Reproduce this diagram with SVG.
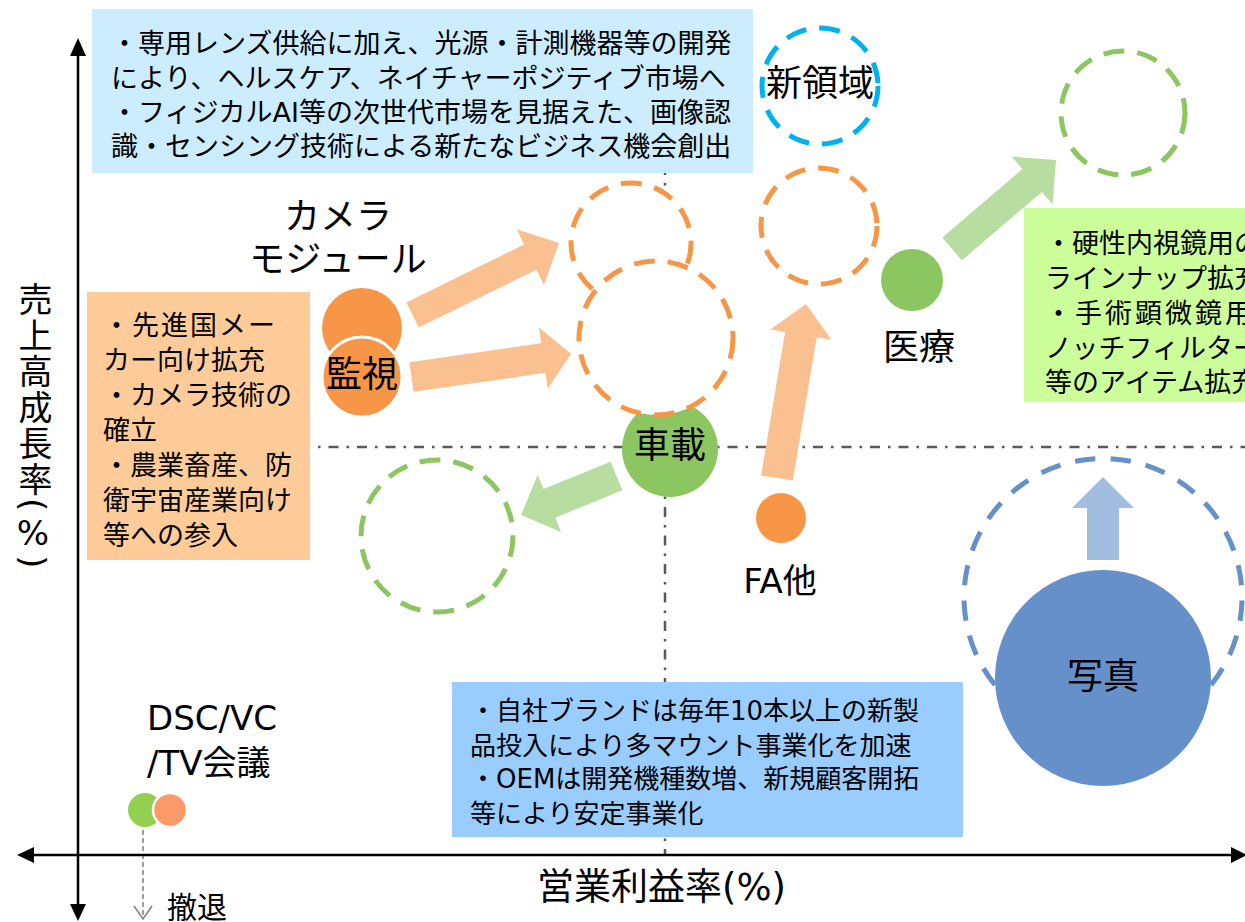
<svg xmlns="http://www.w3.org/2000/svg" width="1245" height="922" viewBox="0 0 1245 922">
<style>
  text { font-family: "DejaVu Sans", "Noto Sans CJK JP", sans-serif; fill: #000; }
  .box { font-size: 27px; }
  .box26 { font-size: 26px; }
  .lbl { font-size: 36px; text-anchor: middle; }
  .dd { fill: #fff; stroke-width: 5; stroke-dasharray: 21 13; }
  .or { stroke: #F79646; }
  .gr { stroke: #8CC660; }
  .dashdot { stroke: #595959; stroke-width: 2.5; stroke-dasharray: 10 8 2.5 8; fill: none; }
  .axis { stroke: #000; stroke-width: 2.5; fill: none; }
  .arrO { fill: #FAC090; }
  .arrG { fill: #B8DDA0; }
</style>
<rect x="0" y="0" width="1245" height="922" fill="#fff"/>

<g id="guides">
  <line class="dashdot" x1="300" y1="447" x2="1245" y2="447"/>
  <line class="dashdot" x1="665" y1="165" x2="665" y2="855"/>
</g>

<g id="box-top">
  <rect x="92" y="9" width="661" height="164" fill="#CCECFF"/>
  <text class="box" x="111" y="53">・専用レンズ供給に加え、光源・計測機器等の開発</text>
  <text class="box" x="111" y="88">により、ヘルスケア、ネイチャーポジティブ市場へ</text>
  <text class="box" x="111" y="122">・フィジカルAI等の次世代市場を見据えた、画像認</text>
  <text class="box" x="111" y="156">識・センシング技術による新たなビジネス機会創出</text>
</g>

<g id="box-left">
  <rect x="87" y="292" width="223" height="268" fill="#FFCC99"/>
  <text class="box" x="103" y="335" letter-spacing="2">・先進国メー</text>
  <text class="box" x="103" y="370">カー向け拡充</text>
  <text class="box" x="103" y="405">・カメラ技術の</text>
  <text class="box" x="103" y="440">確立</text>
  <text class="box" x="103" y="475">・農業畜産、防</text>
  <text class="box" x="103" y="510">衛宇宙産業向け</text>
  <text class="box" x="103" y="545">等への参入</text>
</g>

<g id="box-right">
  <rect x="1024" y="208" width="230" height="194" fill="#CCFF99"/>
  <text class="box" x="1045" y="253">・硬性内視鏡用の</text>
  <text class="box" x="1045" y="288">ラインナップ拡充</text>
  <text class="box" x="1045" y="323" letter-spacing="3">・手術顕微鏡用</text>
  <text class="box" x="1045" y="358">ノッチフィルター</text>
  <text class="box" x="1045" y="392">等のアイテム拡充</text>
</g>

<g id="box-bottom">
  <rect x="452" y="682" width="511" height="155" fill="#99CCFF"/>
  <text class="box26" x="470" y="720">・自社ブランドは毎年10本以上の新製</text>
  <text class="box26" x="470" y="755">品投入により多マウント事業化を加速</text>
  <text class="box26" x="470" y="788">・OEMは開発機種数増、新規顧客開拓</text>
  <text class="box26" x="470" y="823">等により安定事業化</text>
</g>

<g id="connectors">
  <polygon class="arrO" points="406.3,302.4 524.1,244.5 516.6,229.3 559,243 544.0,284.9 536.5,269.7 418.7,327.6"/>
  <polygon class="arrO" points="409.4,362.2 541.2,343.2 538.9,327.3 571,354 547.7,388.7 545.4,372.8 413.6,391.8"/>
  <polygon class="arrO" points="761.2,475.4 785.1,332.0 770.3,329.5 806,304 831.5,339.7 816.7,337.2 792.8,480.6"/>
  <polygon class="arrG" points="942.3,237.6 1022.4,169.1 1011.6,156.6 1056,160 1052.6,204.4 1041.9,191.9 961.8,260.4"/>
  <polygon class="arrG" points="610.6,461.7 543.5,489.1 537.7,474.7 521,515 561.1,532.1 555.3,517.7 622.4,490.3"/>
  <polygon fill="#A3BDE1" points="1087,560 1087,508 1072,508 1103,477 1134,508 1119,508 1119,560"/>
  <line x1="143" y1="830" x2="143" y2="918" stroke="#7F7F7F" stroke-width="1.5" stroke-dasharray="5 3"/>
  <polyline points="134,906 143,919 152,906" fill="none" stroke="#7F7F7F" stroke-width="1.5"/>
</g>

<g id="node-camera">
  <circle cx="362" cy="328" r="40" fill="#F79646"/>
  <text class="lbl" x="338" y="229">カメラ</text>
  <text class="lbl" x="338" y="272">モジュール</text>
</g>
<g id="node-kanshi">
  <circle cx="362" cy="377" r="40" fill="#F79646" stroke="#fff" stroke-width="3"/>
  <text class="lbl" x="362" y="387">監視</text>
</g>

<g id="node-shasai">
  <circle cx="670" cy="449" r="48" fill="#8CC660"/>
  <text class="lbl" x="670" y="458">車載</text>
</g>

<g id="target-orange-1"><circle class="dd or" cx="631" cy="243" r="60"/></g>
<g id="target-orange-2"><circle class="dd or" cx="656" cy="338" r="77"/></g>
<g id="target-orange-3"><circle class="dd or" cx="819" cy="226" r="58"/></g>
<g id="target-green-left"><circle class="dd gr" cx="437" cy="536" r="76"/></g>
<g id="target-green-right"><circle class="dd gr" cx="1123" cy="113" r="62"/></g>

<g id="node-shinryoiki">
  <circle cx="820" cy="86" r="58" fill="none" stroke="#00B0F0" stroke-width="5" stroke-dasharray="21 13"/>
  <text class="lbl" x="820" y="96">新領域</text>
</g>

<g id="node-iryo">
  <circle cx="912" cy="280" r="31" fill="#8CC660"/>
  <text class="lbl" x="919" y="360">医療</text>
</g>

<g id="node-fa">
  <circle cx="781" cy="518" r="25" fill="#F79646"/>
  <text x="780" y="593" font-size="34" text-anchor="middle">FA他</text>
</g>

<g id="node-shashin">
  <path d="M 995 685 A 139 139 0 1 1 1211 685" fill="none" stroke="#6690C9" stroke-width="5" pathLength="615" stroke-dasharray="20 15"/>
  <circle cx="1103" cy="678" r="108" fill="#6690C9"/>
  <text class="lbl" x="1103" y="689">写真</text>
</g>

<g id="node-dsc">
  <circle cx="145" cy="810" r="17" fill="#92D050"/>
  <circle cx="170" cy="810" r="17" fill="#FB9A68" stroke="#fff" stroke-width="2.5"/>
  <text x="147" y="730" font-size="34">DSC/VC</text>
  <text x="147" y="775" font-size="34">/TV会議</text>
  <text x="167" y="918" font-size="30">撤退</text>
</g>

<g id="axes">
  <line class="axis" x1="78" y1="52" x2="78" y2="908"/>
  <polygon points="78,38 70,56 86,56"/>
  <polygon points="78,921 70,904 86,904"/>
  <line class="axis" x1="30" y1="855" x2="1235" y2="855"/>
  <polygon points="17,855 34,847 34,863"/>
  <polygon points="1247,855 1231,847 1231,863"/>
  <text x="537" y="900" font-size="37">営業利益率(%)</text>
  <text x="33" y="282" font-size="34" letter-spacing="2" writing-mode="vertical-rl" style="writing-mode:vertical-rl;text-orientation:mixed">売上高成長率(<tspan style="text-orientation:upright">%</tspan>)</text>
</g>
</svg>
